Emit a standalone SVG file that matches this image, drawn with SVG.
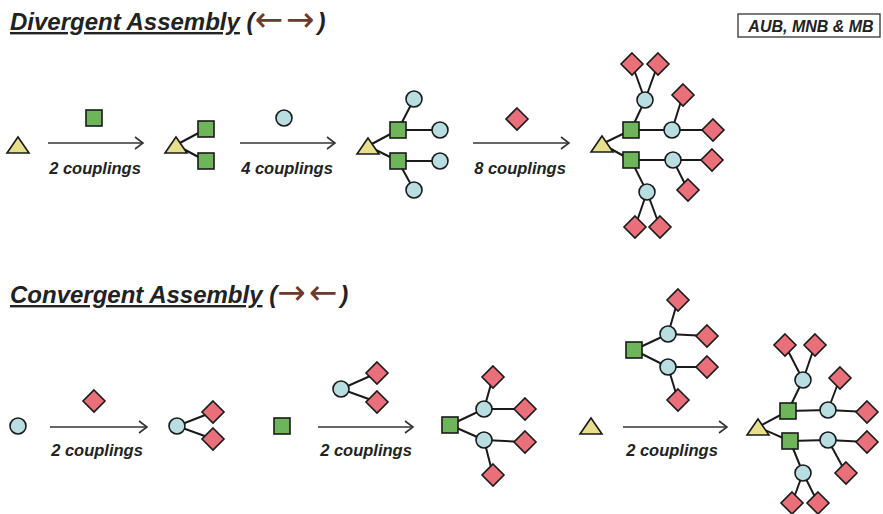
<svg xmlns="http://www.w3.org/2000/svg" xmlns:xlink="http://www.w3.org/1999/xlink" width="883" height="514" viewBox="0 0 883 514">
<style>
.title{font-family:"Liberation Sans",Arial,sans-serif;font-weight:bold;font-style:italic;font-size:24px;fill:#222}
.lab{font-family:"Liberation Sans",Arial,sans-serif;font-weight:bold;font-style:italic;font-size:16.5px;fill:#222;text-anchor:middle}
.brown{fill:#6e3a2e;font-family:"DejaVu Sans",sans-serif;font-style:normal;font-weight:normal;font-size:34px;letter-spacing:3px}
.tri{fill:#e8df8c;stroke:#1a1a1a;stroke-width:1.6}
.sq{fill:#6db45a;stroke:#1a1a1a;stroke-width:1.6}
.ci{fill:#b9dee1;stroke:#1a1a1a;stroke-width:1.6}
.di{fill:#e9707a;stroke:#1a1a1a;stroke-width:1.6}
.bond line{stroke:#1a1a1a;stroke-width:2}
.arr line{stroke:#333;stroke-width:1.6;marker-end:url(#ah)}
</style>
<defs>
<marker id="ah" markerUnits="userSpaceOnUse" markerWidth="12" markerHeight="14" refX="10" refY="7" orient="auto" viewBox="0 0 12 14">
<path d="M2,1 L10,7 L2,13" fill="none" stroke="#333" stroke-width="1.6"/>
</marker>
<path id="T" d="M0,-8 L11,8 L-11,8 Z"/>
<rect id="S" x="-8" y="-8" width="16" height="16"/>
<circle id="C" r="8"/>
<path id="D" d="M0,-11 L11,0 L0,11 L-11,0 Z"/>
</defs>
<rect width="883" height="514" fill="#fff"/>

<g id="titles">
<text class="title" x="10" y="30"><tspan text-decoration="underline">Divergent Assembly</tspan> (<tspan class="brown" dy="1">←→</tspan><tspan dy="-1">)</tspan></text>
<text class="title" x="10" y="303"><tspan text-decoration="underline">Convergent Assembly</tspan> (<tspan class="brown" dy="1">→←</tspan><tspan dy="-1">)</tspan></text>
</g>
<g id="authors">
<rect x="738" y="14" width="142" height="23" fill="#fff" stroke="#333" stroke-width="1.3"/>
<text x="811" y="31.5" text-anchor="middle" style="font-family:'Liberation Sans',Arial,sans-serif;font-weight:bold;font-style:italic;font-size:16px;fill:#222">AUB, MNB &amp; MB</text>
</g>

<g id="connectors">
<g class="arr">
<line x1="48" y1="143" x2="143" y2="143"/>
<line x1="240" y1="143" x2="335" y2="143"/>
<line x1="473" y1="143" x2="569" y2="143"/>
<line x1="50" y1="427" x2="147" y2="427"/>
<line x1="318" y1="427" x2="413" y2="427"/>
<line x1="623" y1="427" x2="727" y2="427"/>
</g>
<g class="bond">
<line x1="176" y1="145" x2="206" y2="129"/><line x1="176" y1="145" x2="206" y2="161"/>
<line x1="368" y1="146" x2="398" y2="130"/><line x1="368" y1="146" x2="398" y2="161"/>
<line x1="398" y1="130" x2="414" y2="99"/><line x1="398" y1="130" x2="440" y2="130"/>
<line x1="398" y1="161" x2="440" y2="161"/><line x1="398" y1="161" x2="414" y2="190"/>
<line x1="602" y1="144" x2="631" y2="130"/><line x1="602" y1="144" x2="631" y2="160"/>
<line x1="631" y1="130" x2="645" y2="100"/><line x1="631" y1="130" x2="672" y2="130"/>
<line x1="645" y1="100" x2="632" y2="64"/><line x1="645" y1="100" x2="658" y2="64"/>
<line x1="672" y1="130" x2="683" y2="95"/><line x1="672" y1="130" x2="713" y2="130"/>
<line x1="631" y1="160" x2="673" y2="160"/><line x1="631" y1="160" x2="647" y2="192"/>
<line x1="673" y1="160" x2="712" y2="160"/><line x1="673" y1="160" x2="688" y2="190"/>
<line x1="647" y1="192" x2="635" y2="227"/><line x1="647" y1="192" x2="660" y2="227"/>
<line x1="177" y1="426" x2="213" y2="412"/><line x1="177" y1="426" x2="213" y2="439"/>
<line x1="341" y1="389" x2="377" y2="373"/><line x1="341" y1="389" x2="377" y2="402"/>
<line x1="450" y1="425" x2="484" y2="409"/><line x1="450" y1="425" x2="484" y2="440"/>
<line x1="484" y1="409" x2="493" y2="377"/><line x1="484" y1="409" x2="525" y2="409"/>
<line x1="484" y1="440" x2="525" y2="442"/><line x1="484" y1="440" x2="493" y2="475"/>
<line x1="634" y1="350" x2="668" y2="334"/><line x1="634" y1="350" x2="668" y2="367"/>
<line x1="668" y1="334" x2="678" y2="300"/><line x1="668" y1="334" x2="707" y2="336"/>
<line x1="668" y1="367" x2="707" y2="367"/><line x1="668" y1="367" x2="678" y2="400"/>
<line x1="758" y1="427" x2="788" y2="411"/><line x1="758" y1="427" x2="790" y2="441"/>
<line x1="788" y1="411" x2="803" y2="380"/><line x1="788" y1="411" x2="828" y2="410"/>
<line x1="803" y1="380" x2="785" y2="345"/><line x1="803" y1="380" x2="815" y2="345"/>
<line x1="828" y1="410" x2="840" y2="378"/><line x1="828" y1="410" x2="867" y2="412"/>
<line x1="790" y1="441" x2="828" y2="440"/><line x1="790" y1="441" x2="803" y2="473"/>
<line x1="828" y1="440" x2="867" y2="442"/><line x1="828" y1="440" x2="846" y2="473"/>
<line x1="803" y1="473" x2="792" y2="503"/><line x1="803" y1="473" x2="818" y2="503"/>
</g>
</g>

<g id="labels">
<text class="lab" x="95" y="174">2 couplings</text>
<text class="lab" x="287" y="174">4 couplings</text>
<text class="lab" x="520" y="174">8 couplings</text>
<text class="lab" x="97" y="456">2 couplings</text>
<text class="lab" x="366" y="456">2 couplings</text>
<text class="lab" x="672" y="456">2 couplings</text>
</g>

<g id="row1-start"><use href="#T" class="tri" x="18" y="145"/></g>
<g id="row1-reagent1"><use href="#S" class="sq" x="94" y="118"/></g>
<g id="row1-product1">
<use href="#T" class="tri" x="176" y="145"/>
<use href="#S" class="sq" x="206" y="129"/><use href="#S" class="sq" x="206" y="161"/>
</g>
<g id="row1-reagent2"><use href="#C" class="ci" x="284" y="118"/></g>
<g id="row1-product2">
<use href="#T" class="tri" x="368" y="146"/>
<use href="#S" class="sq" x="398" y="130"/><use href="#S" class="sq" x="398" y="161"/>
<use href="#C" class="ci" x="414" y="99"/><use href="#C" class="ci" x="440" y="130"/>
<use href="#C" class="ci" x="440" y="161"/><use href="#C" class="ci" x="414" y="190"/>
</g>
<g id="row1-reagent3"><use href="#D" class="di" x="517" y="119"/></g>
<g id="row1-product3">
<use href="#T" class="tri" x="602" y="144"/>
<use href="#S" class="sq" x="631" y="130"/><use href="#S" class="sq" x="631" y="160"/>
<use href="#C" class="ci" x="645" y="100"/><use href="#C" class="ci" x="672" y="130"/>
<use href="#C" class="ci" x="673" y="160"/><use href="#C" class="ci" x="647" y="192"/>
<use href="#D" class="di" x="632" y="64"/><use href="#D" class="di" x="658" y="64"/>
<use href="#D" class="di" x="683" y="95"/><use href="#D" class="di" x="713" y="130"/>
<use href="#D" class="di" x="712" y="160"/><use href="#D" class="di" x="688" y="190"/>
<use href="#D" class="di" x="635" y="227"/><use href="#D" class="di" x="660" y="227"/>
</g>

<g id="row2-start"><use href="#C" class="ci" x="18" y="426"/></g>
<g id="row2-reagent1"><use href="#D" class="di" x="94" y="401"/></g>
<g id="row2-product1">
<use href="#C" class="ci" x="177" y="426"/>
<use href="#D" class="di" x="213" y="412"/><use href="#D" class="di" x="213" y="439"/>
</g>
<g id="row2-start2"><use href="#S" class="sq" x="282" y="426"/></g>
<g id="row2-fragment1">
<use href="#C" class="ci" x="341" y="389"/>
<use href="#D" class="di" x="377" y="373"/><use href="#D" class="di" x="377" y="402"/>
</g>
<g id="row2-product2">
<use href="#S" class="sq" x="450" y="425"/>
<use href="#C" class="ci" x="484" y="409"/><use href="#C" class="ci" x="484" y="440"/>
<use href="#D" class="di" x="493" y="377"/><use href="#D" class="di" x="525" y="409"/>
<use href="#D" class="di" x="525" y="442"/><use href="#D" class="di" x="493" y="475"/>
</g>
<g id="row2-start3"><use href="#T" class="tri" x="591" y="426"/></g>
<g id="row2-fragment2">
<use href="#S" class="sq" x="634" y="350"/>
<use href="#C" class="ci" x="668" y="334"/><use href="#C" class="ci" x="668" y="367"/>
<use href="#D" class="di" x="678" y="300"/><use href="#D" class="di" x="707" y="336"/>
<use href="#D" class="di" x="707" y="367"/><use href="#D" class="di" x="678" y="400"/>
</g>
<g id="row2-product3">
<use href="#T" class="tri" x="758" y="427"/>
<use href="#S" class="sq" x="788" y="411"/><use href="#S" class="sq" x="790" y="441"/>
<use href="#C" class="ci" x="803" y="380"/><use href="#C" class="ci" x="828" y="410"/>
<use href="#C" class="ci" x="828" y="440"/><use href="#C" class="ci" x="803" y="473"/>
<use href="#D" class="di" x="785" y="345"/><use href="#D" class="di" x="815" y="345"/>
<use href="#D" class="di" x="840" y="378"/><use href="#D" class="di" x="867" y="412"/>
<use href="#D" class="di" x="867" y="442"/><use href="#D" class="di" x="846" y="473"/>
<use href="#D" class="di" x="792" y="503"/><use href="#D" class="di" x="818" y="503"/>
</g>
</svg>
